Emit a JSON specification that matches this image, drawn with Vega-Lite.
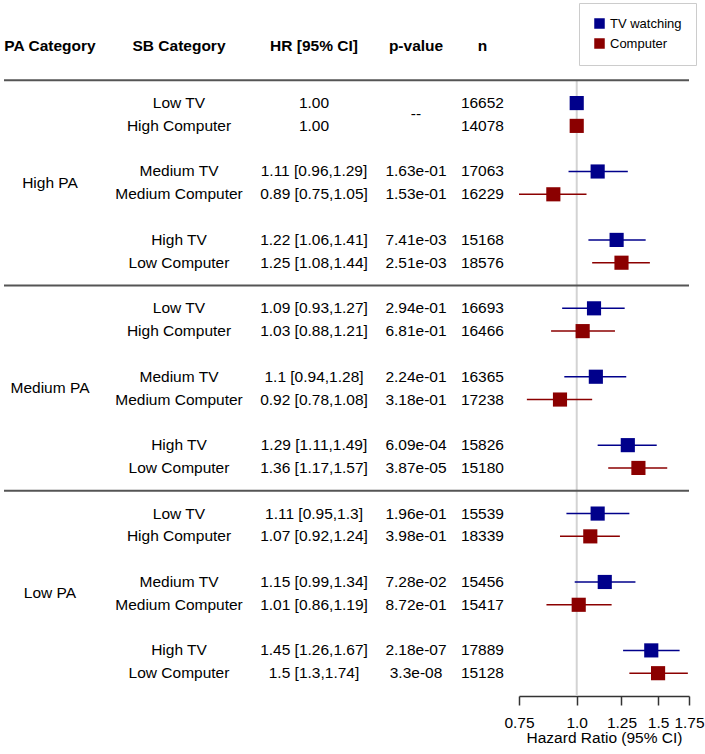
{
  "$schema": "https://vega.github.io/schema/vega-lite/v6.json",
  "padding": {"left": 3, "top": 0, "right": 0, "bottom": 0},
  "bounds": "flush",
  "spacing": 0,
  "config": {
    "font": "Liberation Sans",
    "view": {"stroke": null},
    "text": {"fontSize": 15.5, "color": "black", "baseline": "middle"},
    "axis": {
      "domainColor": "#333", "domainWidth": 1.5, "tickColor": "#333", "tickWidth": 1.5,
      "labelColor": "black", "titleColor": "black", "labelFontSize": 15.5, "titleFontSize": 15.5,
      "titleFontWeight": "normal", "labelFont": "Liberation Sans", "titleFont": "Liberation Sans"
    },
    "legend": {"labelFont": "Liberation Sans"}
  },
  "datasets": {
    "rows": [
      {"pa": "High PA", "sb": "Low TV", "type": "TV watching", "hr": 1, "lo": null, "hi": null, "hrtext": "1.00", "ptext": null, "n": 16652, "row": 1},
      {"pa": "High PA", "sb": "High Computer", "type": "Computer", "hr": 1, "lo": null, "hi": null, "hrtext": "1.00", "ptext": null, "n": 14078, "row": 2},
      {"pa": "High PA", "sb": "Medium TV", "type": "TV watching", "hr": 1.11, "lo": 0.96, "hi": 1.29, "hrtext": "1.11 [0.96,1.29]", "ptext": "1.63e-01", "n": 17063, "row": 4},
      {"pa": "High PA", "sb": "Medium Computer", "type": "Computer", "hr": 0.89, "lo": 0.75, "hi": 1.05, "hrtext": "0.89 [0.75,1.05]", "ptext": "1.53e-01", "n": 16229, "row": 5},
      {"pa": "High PA", "sb": "High TV", "type": "TV watching", "hr": 1.22, "lo": 1.06, "hi": 1.41, "hrtext": "1.22 [1.06,1.41]", "ptext": "7.41e-03", "n": 15168, "row": 7},
      {"pa": "High PA", "sb": "Low Computer", "type": "Computer", "hr": 1.25, "lo": 1.08, "hi": 1.44, "hrtext": "1.25 [1.08,1.44]", "ptext": "2.51e-03", "n": 18576, "row": 8},
      {"pa": "Medium PA", "sb": "Low TV", "type": "TV watching", "hr": 1.09, "lo": 0.93, "hi": 1.27, "hrtext": "1.09 [0.93,1.27]", "ptext": "2.94e-01", "n": 16693, "row": 10},
      {"pa": "Medium PA", "sb": "High Computer", "type": "Computer", "hr": 1.03, "lo": 0.88, "hi": 1.21, "hrtext": "1.03 [0.88,1.21]", "ptext": "6.81e-01", "n": 16466, "row": 11},
      {"pa": "Medium PA", "sb": "Medium TV", "type": "TV watching", "hr": 1.1, "lo": 0.94, "hi": 1.28, "hrtext": "1.1 [0.94,1.28]", "ptext": "2.24e-01", "n": 16365, "row": 13},
      {"pa": "Medium PA", "sb": "Medium Computer", "type": "Computer", "hr": 0.92, "lo": 0.78, "hi": 1.08, "hrtext": "0.92 [0.78,1.08]", "ptext": "3.18e-01", "n": 17238, "row": 14},
      {"pa": "Medium PA", "sb": "High TV", "type": "TV watching", "hr": 1.29, "lo": 1.11, "hi": 1.49, "hrtext": "1.29 [1.11,1.49]", "ptext": "6.09e-04", "n": 15826, "row": 16},
      {"pa": "Medium PA", "sb": "Low Computer", "type": "Computer", "hr": 1.36, "lo": 1.17, "hi": 1.57, "hrtext": "1.36 [1.17,1.57]", "ptext": "3.87e-05", "n": 15180, "row": 17},
      {"pa": "Low PA", "sb": "Low TV", "type": "TV watching", "hr": 1.11, "lo": 0.95, "hi": 1.3, "hrtext": "1.11 [0.95,1.3]", "ptext": "1.96e-01", "n": 15539, "row": 19},
      {"pa": "Low PA", "sb": "High Computer", "type": "Computer", "hr": 1.07, "lo": 0.92, "hi": 1.24, "hrtext": "1.07 [0.92,1.24]", "ptext": "3.98e-01", "n": 18339, "row": 20},
      {"pa": "Low PA", "sb": "Medium TV", "type": "TV watching", "hr": 1.15, "lo": 0.99, "hi": 1.34, "hrtext": "1.15 [0.99,1.34]", "ptext": "7.28e-02", "n": 15456, "row": 22},
      {"pa": "Low PA", "sb": "Medium Computer", "type": "Computer", "hr": 1.01, "lo": 0.86, "hi": 1.19, "hrtext": "1.01 [0.86,1.19]", "ptext": "8.72e-01", "n": 15417, "row": 23},
      {"pa": "Low PA", "sb": "High TV", "type": "TV watching", "hr": 1.45, "lo": 1.26, "hi": 1.67, "hrtext": "1.45 [1.26,1.67]", "ptext": "2.18e-07", "n": 17889, "row": 25},
      {"pa": "Low PA", "sb": "Low Computer", "type": "Computer", "hr": 1.5, "lo": 1.3, "hi": 1.74, "hrtext": "1.5 [1.3,1.74]", "ptext": "3.3e-08", "n": 15128, "row": 26}
    ],
    "groups": [
      {"pa": "High PA", "row": 4.5},
      {"pa": "Medium PA", "row": 13.5},
      {"pa": "Low PA", "row": 22.5}
    ],
    "notes": [{"ptext": "--", "row": 1.5}],
    "headers": [
      {"col": "pa", "label": "PA Category", "row": -1.5},
      {"col": "sb", "label": "SB Category", "row": -1.5},
      {"col": "hr", "label": "HR [95% CI]", "row": -1.5},
      {"col": "p", "label": "p-value", "row": -1.5},
      {"col": "n", "label": "n", "row": -1.5}
    ],
    "lines": [{"row": 0}, {"row": 9}, {"row": 18}],
    "ref": [{"hr": 1, "top": 0, "bottom": 27}]
  },
  "hconcat": [
    {
      "width": 92, "height": 696,
      "layer": [
        {"data": {"name": "lines"}, "mark": {"type": "rule", "color": "#555", "strokeWidth": 2},
         "encoding": {"y": {"field": "row", "type": "quantitative", "scale": {"domain": [-3.52, 27], "reverse": true, "nice": false, "zero": false}, "axis": null}}},
        {"data": {"name": "headers"}, "transform": [{"filter": "datum.col == 'pa'"}], "mark": {"type": "text", "fontWeight": "bold"},
         "encoding": {"y": {"field": "row", "type": "quantitative", "scale": {"domain": [-3.52, 27], "reverse": true, "nice": false, "zero": false}, "axis": null}, "text": {"field": "label"}}},
        {"data": {"name": "groups"}, "mark": {"type": "text"},
         "encoding": {"y": {"field": "row", "type": "quantitative", "scale": {"domain": [-3.52, 27], "reverse": true, "nice": false, "zero": false}, "axis": null}, "text": {"field": "pa"}}}
      ]
    },
    {
      "width": 166, "height": 696,
      "layer": [
        {"data": {"name": "lines"}, "mark": {"type": "rule", "color": "#555", "strokeWidth": 2},
         "encoding": {"y": {"field": "row", "type": "quantitative", "scale": {"domain": [-3.52, 27], "reverse": true, "nice": false, "zero": false}, "axis": null}}},
        {"data": {"name": "headers"}, "transform": [{"filter": "datum.col == 'sb'"}], "mark": {"type": "text", "fontWeight": "bold"},
         "encoding": {"y": {"field": "row", "type": "quantitative", "scale": {"domain": [-3.52, 27], "reverse": true, "nice": false, "zero": false}, "axis": null}, "text": {"field": "label"}}},
        {"data": {"name": "rows"}, "mark": {"type": "text"},
         "encoding": {"y": {"field": "row", "type": "quantitative", "scale": {"domain": [-3.52, 27], "reverse": true, "nice": false, "zero": false}, "axis": null}, "text": {"field": "sb"}}}
      ]
    },
    {
      "width": 104, "height": 696,
      "layer": [
        {"data": {"name": "lines"}, "mark": {"type": "rule", "color": "#555", "strokeWidth": 2},
         "encoding": {"y": {"field": "row", "type": "quantitative", "scale": {"domain": [-3.52, 27], "reverse": true, "nice": false, "zero": false}, "axis": null}}},
        {"data": {"name": "headers"}, "transform": [{"filter": "datum.col == 'hr'"}], "mark": {"type": "text", "fontWeight": "bold"},
         "encoding": {"y": {"field": "row", "type": "quantitative", "scale": {"domain": [-3.52, 27], "reverse": true, "nice": false, "zero": false}, "axis": null}, "text": {"field": "label"}}},
        {"data": {"name": "rows"}, "mark": {"type": "text"},
         "encoding": {"y": {"field": "row", "type": "quantitative", "scale": {"domain": [-3.52, 27], "reverse": true, "nice": false, "zero": false}, "axis": null}, "text": {"field": "hrtext"}}}
      ]
    },
    {
      "width": 100, "height": 696,
      "layer": [
        {"data": {"name": "lines"}, "mark": {"type": "rule", "color": "#555", "strokeWidth": 2},
         "encoding": {"y": {"field": "row", "type": "quantitative", "scale": {"domain": [-3.52, 27], "reverse": true, "nice": false, "zero": false}, "axis": null}}},
        {"data": {"name": "headers"}, "transform": [{"filter": "datum.col == 'p'"}], "mark": {"type": "text", "fontWeight": "bold"},
         "encoding": {"y": {"field": "row", "type": "quantitative", "scale": {"domain": [-3.52, 27], "reverse": true, "nice": false, "zero": false}, "axis": null}, "text": {"field": "label"}}},
        {"data": {"name": "rows"}, "transform": [{"filter": "datum.ptext != null"}], "mark": {"type": "text"},
         "encoding": {"y": {"field": "row", "type": "quantitative", "scale": {"domain": [-3.52, 27], "reverse": true, "nice": false, "zero": false}, "axis": null}, "text": {"field": "ptext"}}},
        {"data": {"name": "notes"}, "mark": {"type": "text"},
         "encoding": {"y": {"field": "row", "type": "quantitative", "scale": {"domain": [-3.52, 27], "reverse": true, "nice": false, "zero": false}, "axis": null}, "text": {"field": "ptext"}}}
      ]
    },
    {
      "width": 53, "height": 696,
      "layer": [
        {"data": {"name": "lines"}, "mark": {"type": "rule", "color": "#555", "strokeWidth": 2},
         "encoding": {"y": {"field": "row", "type": "quantitative", "scale": {"domain": [-3.52, 27], "reverse": true, "nice": false, "zero": false}, "axis": null}}},
        {"data": {"name": "headers"}, "transform": [{"filter": "datum.col == 'n'"}], "mark": {"type": "text", "fontWeight": "bold"},
         "encoding": {"x": {"field": "col", "type": "nominal", "scale": {"type": "point", "align": 0.31}, "axis": null},
                      "y": {"field": "row", "type": "quantitative", "scale": {"domain": [-3.52, 27], "reverse": true, "nice": false, "zero": false}, "axis": null}, "text": {"field": "label"}}},
        {"data": {"name": "rows"}, "transform": [{"calculate": "'n'", "as": "col"}], "mark": {"type": "text"},
         "encoding": {"x": {"field": "col", "type": "nominal", "scale": {"type": "point", "align": 0.31}, "axis": null},
                      "y": {"field": "row", "type": "quantitative", "scale": {"domain": [-3.52, 27], "reverse": true, "nice": false, "zero": false}, "axis": null}, "text": {"field": "n", "type": "nominal"}}}
      ]
    },
    {
      "width": 170, "height": 696,
      "layer": [
        {"data": {"name": "ref"}, "mark": {"type": "rule", "color": "#d3d3d3", "strokeWidth": 2},
         "encoding": {
           "x": {"field": "hr", "type": "quantitative", "scale": {"type": "log", "domain": [0.75, 1.75], "nice": false},
                 "axis": {"values": [0.75, 1, 1.25, 1.5, 1.75], "labelExpr": "datum.value == 1 ? '1.0' : format(datum.value, '~g')",
                          "title": "Hazard Ratio (95% CI)", "grid": false, "tickSize": 9, "labelFlush": false, "labelOverlap": false, "labelBound": false, "labelPadding": 10, "titlePadding": 0}},
           "y": {"field": "top", "type": "quantitative", "scale": {"domain": [-3.52, 27], "reverse": true, "nice": false, "zero": false}, "axis": null},
           "y2": {"field": "bottom"}}},
        {"data": {"name": "lines"}, "mark": {"type": "rule", "color": "#555", "strokeWidth": 2},
         "encoding": {"y": {"field": "row", "type": "quantitative", "scale": {"domain": [-3.52, 27], "reverse": true, "nice": false, "zero": false}, "axis": null}}},
        {"data": {"name": "rows"}, "transform": [{"filter": "datum.lo != null"}], "mark": {"type": "rule", "strokeWidth": 1.5},
         "encoding": {
           "x": {"field": "lo", "type": "quantitative", "title": "Hazard Ratio (95% CI)"},
           "x2": {"field": "hi"},
           "y": {"field": "row", "type": "quantitative", "scale": {"domain": [-3.52, 27], "reverse": true, "nice": false, "zero": false}, "axis": null},
           "color": {"field": "type", "type": "nominal", "scale": {"domain": ["TV watching", "Computer"], "range": ["#00008B", "#8B0000"]}}}},
        {"data": {"name": "rows"}, "mark": {"type": "square", "size": 200, "filled": true, "opacity": 1},
         "encoding": {
           "x": {"field": "hr", "type": "quantitative", "title": "Hazard Ratio (95% CI)"},
           "y": {"field": "row", "type": "quantitative", "scale": {"domain": [-3.52, 27], "reverse": true, "nice": false, "zero": false}, "axis": null},
           "color": {"field": "type", "type": "nominal", "scale": {"domain": ["TV watching", "Computer"], "range": ["#00008B", "#8B0000"]},
                     "legend": {"title": null, "orient": "none", "legendX": 575, "legendY": 3, "labelFontSize": 13, "symbolType": "square", "symbolSize": 81, "strokeColor": "#ccc", "padding": 14, "rowPadding": 5}}}}
      ]
    }
  ]
}
